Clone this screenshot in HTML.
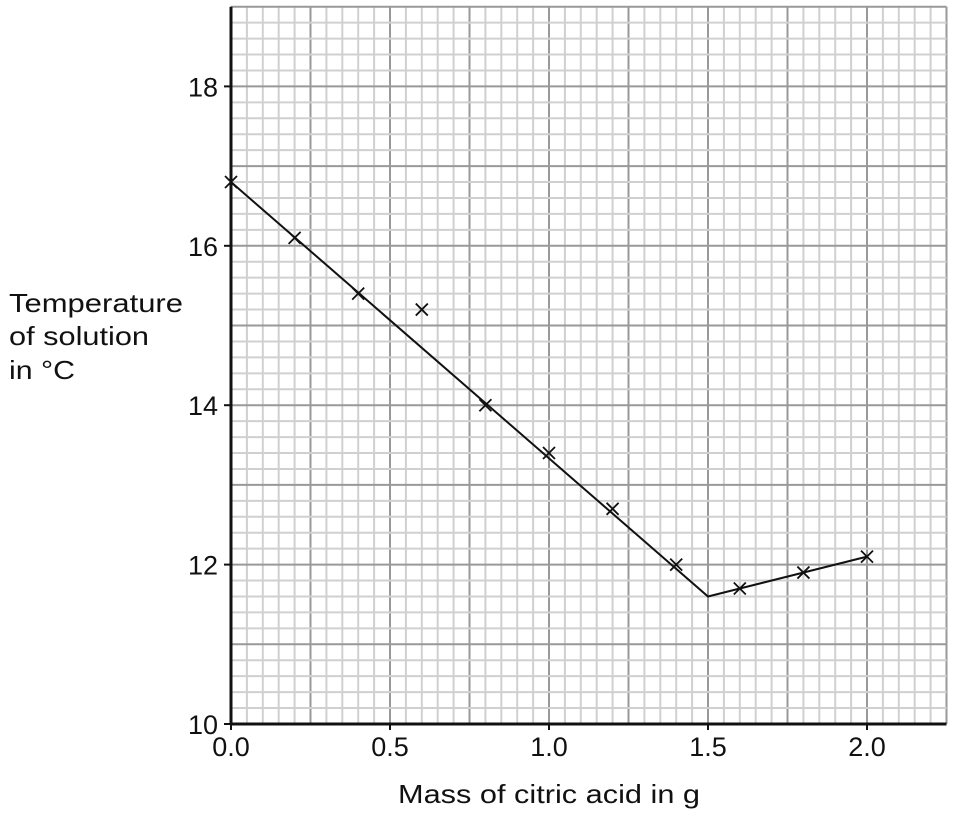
<!DOCTYPE html>
<html><head><meta charset="utf-8"><style>
html,body{margin:0;padding:0;background:#fff;}
svg{display:block;font-family:"Liberation Sans",Arial,sans-serif;}
</style></head><body>
<svg id="chart" width="955" height="817" viewBox="0 0 955 817" xmlns="http://www.w3.org/2000/svg">
<g id="grid"></g>
<g id="axes"></g>
<g id="marks"></g>
<text x="9" y="312" font-size="26" textLength="174" lengthAdjust="spacingAndGlyphs" fill="#111">Temperature</text>
<text x="9" y="345" font-size="26" textLength="140" lengthAdjust="spacingAndGlyphs" fill="#111">of solution</text>
<text x="9" y="379" font-size="26" textLength="66" lengthAdjust="spacingAndGlyphs" fill="#111">in °C</text>
<text x="398" y="803" font-size="26" textLength="302" lengthAdjust="spacingAndGlyphs" fill="#111">Mass of citric acid in g</text>
</svg>
<script>
const xTicks=[0,0.5,1.0,1.5,2.0];
const xTickLabels=["0.0","0.5","1.0","1.5","2.0"];
const yTicks=[10,12,14,16,18];
const yTickLabels=["10","12","14","16","18"];
const pointX=[0,0.2,0.4,0.6,0.8,1.0,1.2,1.4,1.6,1.8,2.0];
const pointY=[16.8,16.1,15.4,15.2,14.0,13.4,12.7,12.0,11.7,11.9,12.1];
const lineX=[0,1.5,2.0];
const lineY=[16.8,11.6,12.1];

const X0=231,XS=318,Y0=724,YS=79.7;
const xMin=0,xMax=2.25,yMin=10,yMax=19;
const sx=v=>X0+(v-xMin)*XS;
const sy=v=>Y0-(v-yMin)*YS;
const NS="http://www.w3.org/2000/svg";
function mk(tag,attrs,parent){const e=document.createElementNS(NS,tag);for(const k in attrs)e.setAttribute(k,attrs[k]);parent.appendChild(e);return e;}
const grid=document.getElementById('grid'),axes=document.getElementById('axes'),marks=document.getElementById('marks');
for(let i=0;i<=45;i++){const v=i*0.05,x=sx(v);const major=i%5===0;
 const l=mk('line',{x1:x,x2:x,y1:sy(yMax),y2:sy(yMin),stroke:major?'#999':'#d0d0d0','stroke-width':2},grid);
 
 }
for(let i=0;i<=45;i++){const v=yMin+i*0.2,y=sy(v);const major=i%5===0;
 const l=mk('line',{x1:sx(xMin),x2:sx(xMax),y1:y,y2:y,stroke:major?'#999':'#d0d0d0','stroke-width':2},grid);
 
 }
const ax=mk('line',{x1:sx(0),x2:sx(xMax),y1:sy(yMin),y2:sy(yMin),stroke:'#111','stroke-width':3},axes);


const ay=mk('line',{x1:sx(0),x2:sx(0),y1:sy(yMax),y2:sy(yMin),stroke:'#111','stroke-width':3},axes);


xTicks.forEach((v,i)=>{const t=mk('text',{x:sx(v),y:756,'font-size':27,'text-anchor':'middle',fill:'#111'},axes);t.textContent=xTickLabels[i];
 
 
 const tk=mk('line',{x1:sx(v),x2:sx(v),y1:sy(yMin),y2:sy(yMin)+6,stroke:'#111','stroke-width':2},axes);
 
 });
yTicks.forEach((v,i)=>{const t=mk('text',{x:218,y:sy(v)+10,'font-size':27,'text-anchor':'end',fill:'#111'},axes);t.textContent=yTickLabels[i];
 
 
 const tk=mk('line',{x1:sx(0)-7,x2:sx(0),y1:sy(v),y2:sy(v),stroke:'#111','stroke-width':2},axes);
 
 });
const pl=mk('polyline',{points:lineX.map((v,i)=>sx(v)+','+sy(lineY[i])).join(' '),fill:'none',stroke:'#111','stroke-width':2},marks);


pointX.forEach((v,i)=>{const x=sx(v),y=sy(pointY[i]),s=6;
 const p=mk('path',{d:`M${x-s},${y-s}L${x+s},${y+s}M${x-s},${y+s}L${x+s},${y-s}`,stroke:'#111','stroke-width':1.8,fill:'none'},marks);
 
 });
</script>
</body></html>
